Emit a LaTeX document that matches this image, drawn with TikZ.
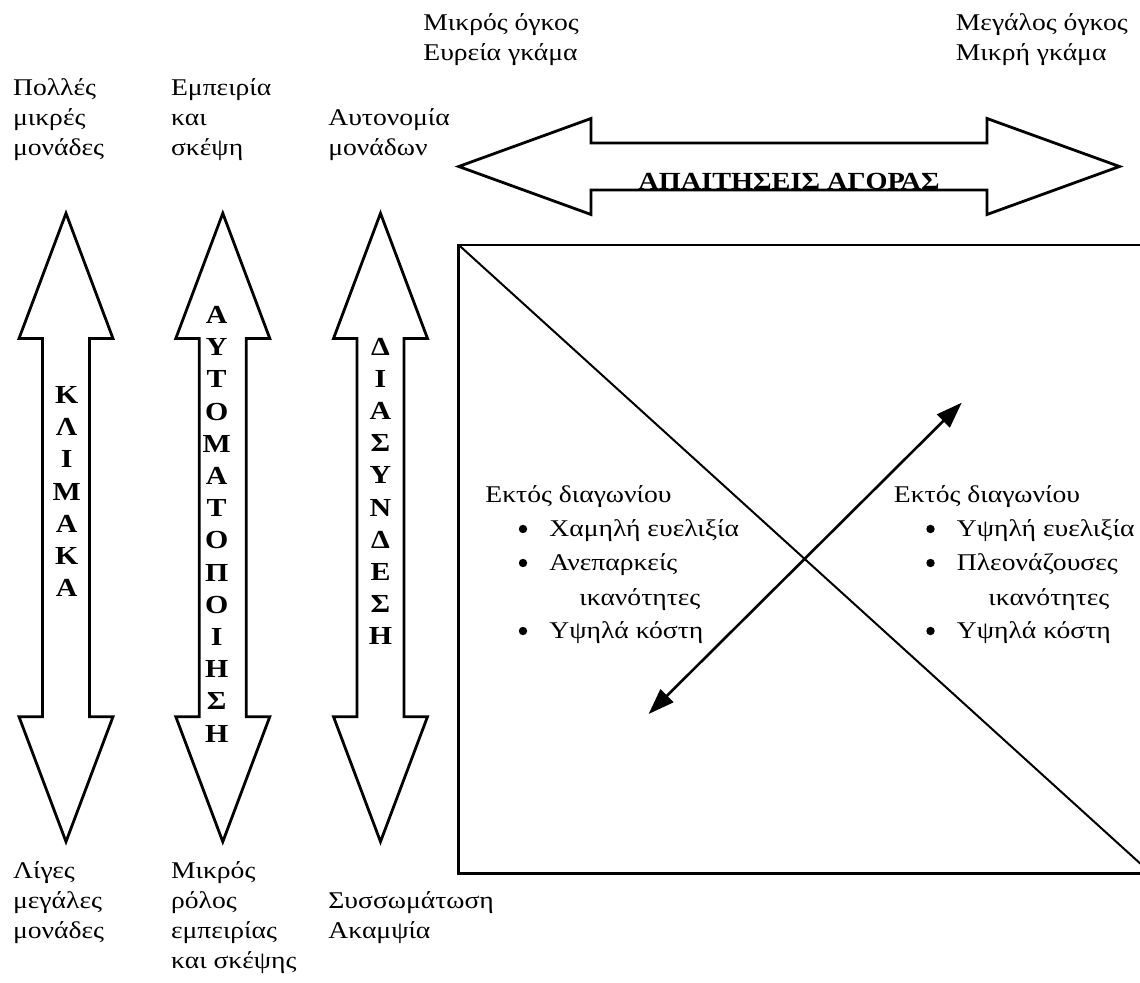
\documentclass[tikz,border=0pt]{standalone}
\usepackage{fontspec}
\setmainfont{Liberation Serif}[FakeStretch=1.15]
\usetikzlibrary{arrows.meta}

\tikzset{
  lbl/.style = {anchor=north west, inner sep=0pt, align=left,
    font=\fontsize{12}{15}\selectfont},
  item/.style = {anchor=base west, inner sep=0pt,
    font=\fontsize{12}{15}\selectfont},
  dot/.style = {circle, fill, inner sep=0pt, minimum size=4.2pt},
  spine/.style = {anchor=north, inner sep=0pt, align=center,
    font=\fontsize{13}{16.1}\selectfont\bfseries},
  fat/.style = {draw, line width=1.4pt, fill=white, line join=miter},
  cross/.style = {line width=1.3pt, {Triangle[length=13pt,width=9pt]}-{Triangle[length=13pt,width=9pt]}}
}

\begin{document}
\begin{tikzpicture}[x=0.5pt, y=-0.5pt]
  \useasboundingbox (0,0) rectangle (1140,983);

  % vertical double arrows
  \foreach \c in {66, 222.8, 380.5}{
    \draw[fat] (\c,213.3) -- (\c+47,338.5) -- (\c+23.5,338.5) -- (\c+23.5,716.7)
      -- (\c+47,716.7) -- (\c,841.7) -- (\c-47,716.7) -- (\c-23.5,716.7)
      -- (\c-23.5,338.5) -- (\c-47,338.5) -- cycle;
  }
  \node[spine] (klimaka) at (66.7,386) {Κ\\Λ\\Ι\\Μ\\Α\\Κ\\Α};
  \node[spine] (autom) at (216.7,306) {Α\\Υ\\Τ\\Ο\\Μ\\Α\\Τ\\Ο\\Π\\Ο\\Ι\\Η\\Σ\\Η};
  \node[spine] (diasyn) at (380.5,337.5) {Δ\\Ι\\Α\\Σ\\Υ\\Ν\\Δ\\Ε\\Σ\\Η};

  % horizontal double arrow
  \draw[fat] (458.75,166.5) -- (591,118.5) -- (591,143) -- (987,143) -- (987,118.5)
    -- (1119.5,166.5) -- (987,214.5) -- (987,190) -- (591,190) -- (591,214.5) -- cycle;
  \node[anchor=base, inner sep=0pt, font=\fontsize{12.3}{16}\selectfont\bfseries]
    (agora) at (789,190) {ΑΠΑΙΤΗΣΕΙΣ ΑΓΟΡΑΣ};

  % end labels
  \node[lbl] (polles) at (12.7,74) {\strut Πολλές\\μικρές\\μονάδες};
  \node[lbl] (empeiria) at (170.7,74) {\strut Εμπειρία\\και\\σκέψη};
  \node[lbl] (autonomia) at (328,104) {\strut Αυτονομία\\μονάδων};
  \node[lbl] (mikros) at (423,9) {\strut Μικρός όγκος\\Ευρεία γκάμα};
  \node[lbl] (megalos) at (955.5,9) {\strut Μεγάλος όγκος\\Μικρή γκάμα};
  \node[lbl] (liges) at (12.7,857) {\strut Λίγες\\μεγάλες\\μονάδες};
  \node[lbl] (rolos) at (170.7,857) {\strut Μικρός\\ρόλος\\εμπειρίας\\και σκέψης};
  \node[lbl] (syss) at (328,887) {\strut Συσσωμάτωση\\Ακαμψία};

  % matrix box
  \coordinate (nw) at (458.75,245);
  \coordinate (se) at (1151,873.3);
  \draw[line width=1.4pt] (nw) rectangle (se);
  \draw[line width=1pt] (nw) -- (se);
  \coordinate (lo) at (648.6,714);
  \coordinate (hi) at (961.7,402.7);
  \draw[cross] (lo) -- (hi);

  % left off-diagonal
  \node[item] (lhead) at (485,503) {Εκτός διαγωνίου};
  \node[item] (l1) at (549,537) {Χαμηλή ευελιξία};
  \node[item] (l2) at (549,571) {Ανεπαρκείς};
  \node[item] (l2b) at (579,605) {ικανότητες};
  \node[item] (l3) at (549,639) {Υψηλά κόστη};
  \foreach \y in {537,571,639} \node[dot] at (523,\y-8) {};

  % right off-diagonal
  \node[item] (rhead) at (893.5,503) {Εκτός διαγωνίου};
  \node[item] (r1) at (956.5,537) {Υψηλή ευελιξία};
  \node[item] (r2) at (956.5,571) {Πλεονάζουσες};
  \node[item] (r2b) at (988,605) {ικανότητες};
  \node[item] (r3) at (956.5,639) {Υψηλά κόστη};
  \foreach \y in {537,571,639} \node[dot] at (930.5,\y-8) {};
\end{tikzpicture}
\end{document}
